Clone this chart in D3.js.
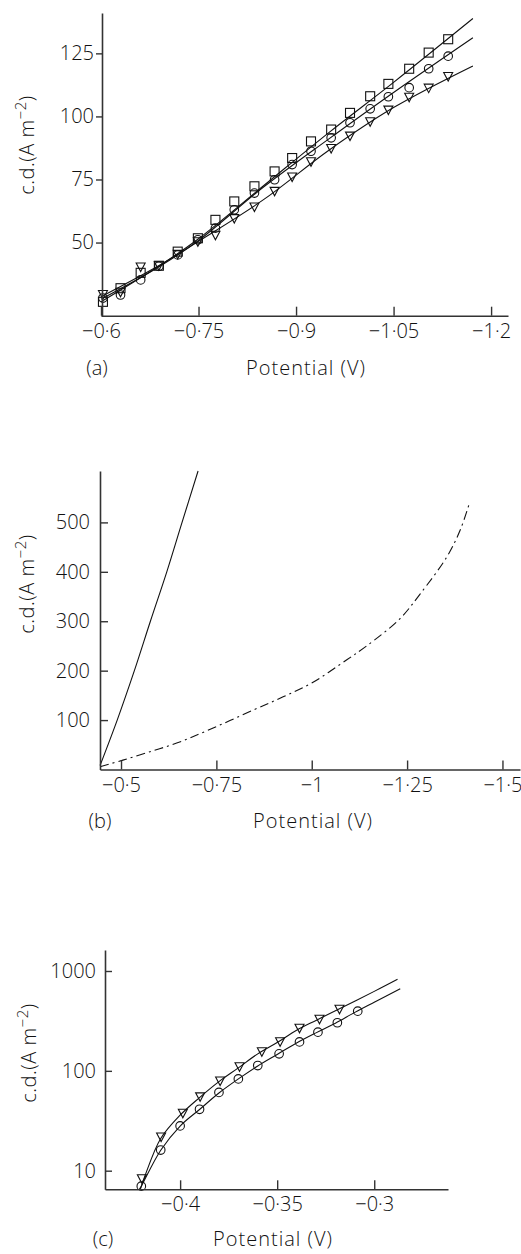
<!DOCTYPE html>
<html><head><meta charset="utf-8">
<script src="https://cdn.jsdelivr.net/npm/d3@7"></script>
<style>
body{margin:0;background:#fff;}
text{font-family:"Open Sans",sans-serif;font-weight:300;fill:#111;}
</style></head><body>
<svg id="c" width="521" height="1254"></svg>
<script>
// ---------- Panel (a) data ----------
const aPotential = [-0.603,-0.630,-0.661,-0.689,-0.718,-0.749,-0.776,-0.805,-0.836,-0.867,-0.894,-0.923,-0.954,-0.983,-1.014,-1.042,-1.074,-1.104,-1.134];
const aSquare   = [26.5,31.9,38.0,40.8,46.4,51.7,59.0,66.3,72.3,78.2,83.5,90.1,94.8,101.4,108.0,112.9,118.9,125.3,130.6];
const aCircle   = [28.0,29.2,35.2,40.6,45.1,51.1,55.7,63.0,69.6,74.9,80.9,86.2,91.5,97.5,103.0,107.8,111.4,118.9,123.9];
const aTriangle = [29.6,30.5,40.5,41.0,45.5,50.5,53.1,59.7,64.3,70.5,76.2,82.2,87.5,92.4,98.1,102.7,107.8,111.4,116.0];
const aFitPotential = [-0.6,-0.69,-0.75,-0.85,-0.95,-1.05,-1.172];
const aSquareFit   = [26.5,40.8,51.5,72.5,93.5,113.5,138.8];
const aCircleFit   = [27.5,40.5,50.8,72.0,91.0,109.5,131.2];
const aTriangleFit = [28.5,41.0,50.5,67.0,86.5,103.5,120.0];
const aXTicks = [-0.6,-0.75,-0.9,-1.05,-1.2];
const aXLabels = ["\u22120\u00b76","\u22120\u00b775","\u22120\u00b79","\u22121\u00b705","\u22121\u00b72"];
const aYTicks = [50,75,100,125];
const aYLabels = ["50","75","100","125"];

// ---------- Panel (b) data ----------
const bSolidPotential = [-0.445,-0.49,-0.535,-0.577,-0.62,-0.66,-0.702];
const bSolid          = [8,100,200,300,400,500,604];
const bDashPotential  = [-0.445,-0.505,-0.576,-0.646,-0.724,-0.846,-0.925,-1.0,-1.092,-1.144,-1.231,-1.284,-1.354,-1.389,-1.413];
const bDash           = [5.7,19,36,53.5,78,120,147,175,222,250,305,355,430,484,538];
const bXTicks = [-0.5,-0.75,-1,-1.25,-1.5];
const bXLabels = ["\u22120\u00b75","\u22120\u00b775","\u22121","\u22121\u00b725","\u22121\u00b75"];
const bYTicks = [100,200,300,400,500];
const bYLabels = ["100","200","300","400","500"];

// ---------- Panel (c) data ----------
const cCirclePotential = [-0.42,-0.41,-0.40,-0.39,-0.38,-0.37,-0.36,-0.349,-0.3385,-0.329,-0.319,-0.3085];
const cCircle          = [7.0,16.1,28.1,41.2,60.8,83,113,148,195,244,303,396];
const cTrianglePotential = [-0.4197,-0.4098,-0.3986,-0.3897,-0.3794,-0.3694,-0.3579,-0.3485,-0.3385,-0.3282,-0.3179];
const cTriangle          = [8.4,22,38,55.5,80,111,157,198,270,332,419];
const cTriFitPotential = [-0.4205,-0.418,-0.41,-0.40,-0.39,-0.38,-0.37,-0.36,-0.35,-0.34,-0.33,-0.32,-0.30,-0.288];
const cTriFit          = [6.5,9,21,36,54,78,107,148,192,255,320,400,625,826];
const cCirFitPotential = [-0.421,-0.42,-0.41,-0.40,-0.39,-0.38,-0.37,-0.36,-0.35,-0.34,-0.33,-0.32,-0.31,-0.30,-0.2866];
const cCirFit          = [6.5,7,16,28,41,60,83,112,146,190,240,300,385,487,665];
const cXTicks = [-0.4,-0.35,-0.3];
const cXLabels = ["\u22120\u00b74","\u22120\u00b735","\u22120\u00b73"];
const cYTicks = [10,100,1000];
const cYLabels = ["10","100","1000"];

const svg = d3.select("#c");
const FS = 20;

function zip(xs, ys){ return xs.map((x,i)=>[x, ys[i]]); }

function styleAxis(g){
  g.select(".domain").attr("stroke","#333").attr("stroke-width",1.6);
  g.selectAll(".tick line").attr("stroke","#333").attr("stroke-width",1.4);
  g.selectAll(".tick text").attr("font-size",FS).attr("fill","#111")
    .style("font-family",'"Open Sans",sans-serif').style("font-weight",300);
}

function yTitle(x, yc){
  const t = svg.append("text").attr("transform",`translate(${x},${yc}) rotate(-90)`)
    .attr("text-anchor","middle").attr("font-size",FS).attr("letter-spacing",0.5);
  t.append("tspan").text("c.d.(A m");
  t.append("tspan").attr("dy",-8).attr("font-size",15).text("\u22122");
  t.append("tspan").attr("dy",8).text(")");
}
function label(x,y,s,ls){
  svg.append("text").attr("x",x).attr("y",y).attr("dy","0.35em").attr("text-anchor","middle")
    .attr("font-size",FS).attr("letter-spacing",ls||0).text(s);
}

function squares(g, xs, ys, sx, sy){
  g.selectAll(null).data(zip(xs,ys)).join("rect")
    .attr("x",d=>sx(d[0])-4.5).attr("y",d=>sy(d[1])-4.5).attr("width",9).attr("height",9)
    .attr("fill","none").attr("stroke","#111").attr("stroke-width",1.1);
}
function circles(g, xs, ys, sx, sy){
  g.selectAll(null).data(zip(xs,ys)).join("circle")
    .attr("cx",d=>sx(d[0])).attr("cy",d=>sy(d[1])).attr("r",4.3)
    .attr("fill","none").attr("stroke","#111").attr("stroke-width",1.1);
}
function triangles(g, xs, ys, sx, sy){
  g.selectAll(null).data(zip(xs,ys)).join("path")
    .attr("d",d=>{const x=sx(d[0]), y=sy(d[1]); return `M${x-4.5},${y-3.5}L${x+4.5},${y-3.5}L${x},${y+5}Z`;})
    .attr("fill","none").attr("stroke","#111").attr("stroke-width",1.1);
}
function curve(g, xs, ys, sx, sy, dash){
  const line = d3.line().x(d=>sx(d[0])).y(d=>sy(d[1])).curve(d3.curveCatmullRom.alpha(0.5));
  g.append("path").attr("d",line(zip(xs,ys))).attr("fill","none").attr("stroke","#111")
    .attr("stroke-width",1.1).attr("stroke-dasharray",dash||null);
}

// ================= Panel (a) =================
{
  const sx = d3.scaleLinear().domain([-0.6,-1.226]).range([101,508]);
  const sy = d3.scaleLinear().domain([21,141]).range([315.7,13]);
  const g = svg.append("g");
  curve(g, aFitPotential, aSquareFit, sx, sy);
  curve(g, aFitPotential, aCircleFit, sx, sy);
  curve(g, aFitPotential, aTriangleFit, sx, sy);
  squares(g, aPotential, aSquare, sx, sy);
  circles(g, aPotential, aCircle, sx, sy);
  triangles(g, aPotential, aTriangle, sx, sy);
  svg.append("g").attr("transform","translate(102,0)")
    .call(d3.axisLeft(sy).tickValues(aYTicks).tickFormat((d,i)=>aYLabels[i]).tickSize(6).tickSizeOuter(0).tickPadding(2))
    .call(styleAxis);
  svg.append("g").attr("transform","translate(0,315.7)")
    .call(d3.axisBottom(sx).tickValues(aXTicks).tickFormat((d,i)=>aXLabels[i]).tickSize(-9).tickSizeOuter(0).tickPadding(8))
    .call(styleAxis);
  yTitle(34, 145);
  label(97, 368, "(a)");
  label(306, 368, "Potential (V)", 1);
}

// ================= Panel (b) =================
{
  const sx = d3.scaleLinear().domain([-0.4449,-1.546]).range([100,520]);
  const sy = d3.scaleLinear().domain([0,604]).range([769.5,471]);
  const g = svg.append("g");
  curve(g, bSolidPotential, bSolid, sx, sy);
  curve(g, bDashPotential, bDash, sx, sy, "9,4,2,4");
  svg.append("g").attr("transform","translate(100,0)")
    .call(d3.axisLeft(sy).tickValues(bYTicks).tickFormat((d,i)=>bYLabels[i]).tickSize(-8).tickSizeOuter(0).tickPadding(10))
    .call(styleAxis);
  svg.append("g").attr("transform","translate(0,769.5)")
    .call(d3.axisBottom(sx).tickValues(bXTicks).tickFormat((d,i)=>bXLabels[i]).tickSize(-9).tickSizeOuter(0).tickPadding(8))
    .call(styleAxis);
  yTitle(34, 584);
  label(100, 821, "(b)");
  label(313, 821, "Potential (V)", 1);
}

// ================= Panel (c) =================
{
  const sx = d3.scaleLinear().domain([-0.4387,-0.262]).range([105,448]);
  const sy = d3.scaleLog().domain([6.51,1623]).range([1189.3,950]);
  const g = svg.append("g");
  curve(g, cTriFitPotential, cTriFit, sx, sy);
  curve(g, cCirFitPotential, cCirFit, sx, sy);
  circles(g, cCirclePotential, cCircle, sx, sy);
  triangles(g, cTrianglePotential, cTriangle, sx, sy);
  svg.append("g").attr("transform","translate(105,0)")
    .call(d3.axisLeft(sy).tickValues(cYTicks).tickFormat((d,i)=>cYLabels[i]).tickSize(-7).tickSizeOuter(0).tickPadding(9))
    .call(styleAxis);
  svg.append("g").attr("transform","translate(0,1189.3)")
    .call(d3.axisBottom(sx).tickValues(cXTicks).tickFormat((d,i)=>cXLabels[i]).tickSize(-9).tickSizeOuter(0).tickPadding(8))
    .call(styleAxis);
  yTitle(36, 1053);
  label(103, 1239, "(c)");
  label(273, 1239, "Potential (V)", 1);
}
</script></body></html>
